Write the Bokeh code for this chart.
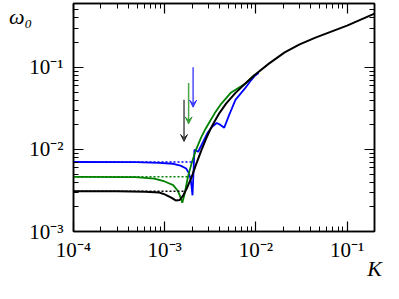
from bokeh.plotting import figure
from bokeh.models import (FixedTicker, CustomJSTickFormatter, LogAxis, Arrow, VeeHead, Range1d)
from bokeh.embed import file_html
from bokeh.resources import INLINE

# ---- data ----
K_black = [1.0e-4, 3.0e-4, 6.1e-4, 8.7e-4, 1.0e-3, 1.18e-3, 1.32e-3, 1.46e-3, 1.60e-3, 1.76e-3,
           1.98e-3, 2.22e-3, 2.50e-3, 2.81e-3, 3.16e-3, 3.56e-3, 4.00e-3, 4.71e-3, 5.97e-3,
           7.55e-3, 9.77e-3, 1.39e-2, 2.07e-2, 3.02e-2, 4.5e-2, 1.0e-1, 2.0e-1]
w_black = [3.10e-3, 3.10e-3, 3.06e-3, 2.99e-3, 2.83e-3, 2.58e-3, 2.39e-3, 2.42e-3, 2.76e-3, 3.40e-3,
           4.65e-3, 6.68e-3, 9.49e-3, 1.31e-2, 1.75e-2, 2.24e-2, 2.79e-2, 3.62e-2, 4.89e-2,
           6.26e-2, 8.13e-2, 0.111, 0.152, 0.191, 0.230, 0.322, 0.452]

K_green = [1.0e-4, 4.8e-4, 7.7e-4, 1.0e-3, 1.24e-3, 1.39e-3, 1.49e-3, 1.56e-3, 1.64e-3, 1.80e-3,
           1.98e-3, 2.22e-3, 2.50e-3, 2.81e-3, 3.16e-3, 3.56e-3, 4.19e-3, 5.30e-3, 7.55e-3, 9.77e-3]
w_green = [4.64e-3, 4.60e-3, 4.40e-3, 4.07e-3, 3.67e-3, 3.14e-3, 2.62e-3, 2.24e-3, 2.76e-3, 4.64e-3,
           6.86e-3, 1.01e-2, 1.38e-2, 1.79e-2, 2.24e-2, 2.79e-2, 3.62e-2, 4.89e-2, 6.26e-2, 8.13e-2]

K_blue = [1.0e-4, 4.83e-4, 8.7e-4, 1.24e-3, 1.49e-3, 1.72e-3, 1.84e-3, 1.93e-3, 2.02e-3, 2.12e-3,
          2.33e-3, 2.62e-3, 2.94e-3, 3.31e-3, 3.72e-3, 4.09e-3, 4.50e-3, 5.06e-3, 5.97e-3, 7.55e-3,
          8.69e-3, 9.77e-3, 1.07e-2]
w_blue = [7.03e-3, 6.99e-3, 6.86e-3, 6.69e-3, 6.34e-3, 5.86e-3, 5.15e-3, 4.30e-3, 2.76e-3, 9.87e-3,
          9.37e-3, 1.22e-2, 1.58e-2, 1.89e-2, 2.10e-2, 1.99e-2, 1.84e-2, 2.58e-2, 4.02e-2, 5.50e-2,
          6.77e-2, 7.91e-2, 8.55e-2]

# flat (small-K) levels, critical K (arrows), arrow extents
series_colors = ["black", "green", "blue"]
w_flat = [3.10e-3, 4.64e-3, 7.03e-3]
K_crit = [1.63e-3, 1.83e-3, 2.05e-3]
arrow_top = [4.02e-2, 6.43e-2, 1.0e-1]
arrow_bottom = [1.25e-2, 2.05e-2, 3.27e-2]

x_major = [1e-4, 1e-3, 1e-2, 1e-1]
y_major = [1e-3, 1e-2, 1e-1]

X0, X1 = 1e-4, 0.2
Y0, Y1 = 1e-3, 0.6

# ---- figure ----
p = figure(width=383, height=283, x_axis_type="log", y_axis_type="log",
           x_range=Range1d(X0, X1), y_range=Range1d(Y0, Y1),
           output_backend="svg", toolbar_location=None,
           min_border_left=73, min_border_right=9, min_border_top=3, min_border_bottom=40)
p.background_fill_color = "white"
p.border_fill_color = "white"
p.outline_line_color = "black"
p.outline_line_width = 1.5
p.xgrid.visible = False
p.ygrid.visible = False

minor = [m * 10.0 ** e for e in range(-5, 1) for m in range(2, 10)]

fmt_code = """
const e = Math.round(Math.log10(tick));
const m = {"-":"\\u207b","0":"\\u2070","1":"\\u00b9","2":"\\u00b2","3":"\\u00b3","4":"\\u2074",
           "5":"\\u2075","6":"\\u2076","7":"\\u2077","8":"\\u2078","9":"\\u2079"};
return "10" + String(e).split("").map(c => m[c]).join("");
"""

def style(ax, ticks, show_labels):
    ax.ticker = FixedTicker(ticks=ticks, minor_ticks=minor)
    ax.major_tick_in = 10
    ax.major_tick_out = 0
    ax.minor_tick_in = 5
    ax.minor_tick_out = 0
    ax.major_tick_line_color = "black"
    ax.minor_tick_line_color = "black"
    ax.major_tick_line_width = 1.2
    ax.minor_tick_line_width = 1
    ax.axis_line_color = "black"
    ax.axis_line_width = 1.5
    if show_labels:
        ax.formatter = CustomJSTickFormatter(code=fmt_code)
        ax.major_label_text_font = "Liberation Serif"
        ax.major_label_text_font_size = "21px"
        ax.major_label_text_color = "black"
        ax.major_label_standoff = 6
    else:
        ax.formatter = CustomJSTickFormatter(code="return '';")
        ax.major_label_text_font_size = "1px"
        ax.major_label_standoff = 0
        ax.axis_label_standoff = 0


def set_align(ax, options):
    for opt in options:
        try:
            ax.axis_label_align = opt
            return
        except Exception:
            pass


xa = p.below[0]
ya = p.left[0]
style(xa, x_major, True)
style(ya, y_major, True)
ya.major_label_standoff = 10

xa.axis_label = "K"
xa.axis_label_text_font = "Liberation Serif"
xa.axis_label_text_font_style = "italic"
xa.axis_label_text_font_size = "22px"
xa.axis_label_text_color = "black"
xa.axis_label_standoff = -9
set_align(xa, ["end", "right"])

ya.axis_label = "\u00a0\n\u03c9\u2080"
ya.axis_label_orientation = "horizontal"
ya.axis_label_text_font = "Liberation Serif"
ya.axis_label_text_font_style = "italic"
ya.axis_label_text_font_size = "22px"
ya.axis_label_text_color = "black"
ya.axis_label_text_line_height = 1.0
ya.axis_label_standoff = -6
set_align(ya, ["end", "right"])

top_ax = LogAxis()
style(top_ax, x_major, False)
p.add_layout(top_ax, "above")
right_ax = LogAxis()
style(right_ax, y_major, False)
p.add_layout(right_ax, "right")

# curves
p.line(K_blue, w_blue, line_color="blue", line_width=1.8)
p.line(K_green, w_green, line_color="green", line_width=1.8)
p.line(K_black, w_black, line_color="black", line_width=2)

# dotted plateau levels up to critical K (drawn on top), and arrows
for c, wf, kc, y_a, y_b in zip(series_colors, w_flat, K_crit, arrow_top, arrow_bottom):
    p.line([X0, kc], [wf, wf], line_color=c, line_width=1.5, line_dash="2 2")
    p.add_layout(Arrow(end=VeeHead(size=7, line_color=c, fill_color=c, line_alpha=0.7, fill_alpha=0.7),
                       x_start=kc, y_start=y_a, x_end=kc, y_end=y_b,
                       line_color=c, line_alpha=0.7, line_width=1.5))

open("out.html", "w").write(file_html(p, INLINE))
